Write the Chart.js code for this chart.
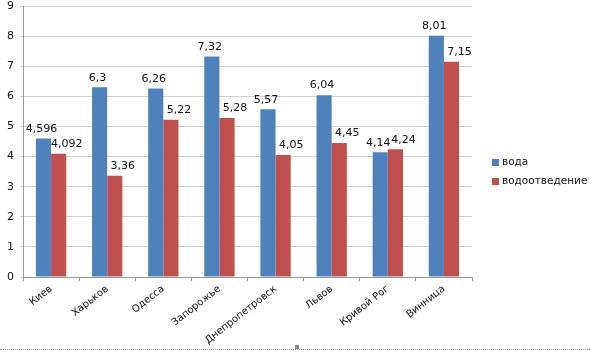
<!DOCTYPE html>
<html>
<head>
<meta charset="utf-8">
<script src="https://cdn.jsdelivr.net/npm/chart.js@4/dist/chart.umd.min.js"></script>
<style>
  body { margin: 0; background: #fff; }
  .wrap { position: relative; width: 590px; height: 358px; }
  .dots { position: absolute; left: 0; top: 349px; width: 590px; border-top: 1px dotted #999; }
  .handle { position: absolute; left: 295px; top: 345px; width: 4px; height: 4px; background: #888; }
</style>
</head>
<body>
<div class="wrap">
  <canvas id="chart" width="590" height="358"></canvas>
  <div class="dots"></div>
  <div class="handle"></div>
</div>
<script>
const cities = ['Киев', 'Харьков', 'Одесса', 'Запорожье', 'Днепропетровск', 'Львов', 'Кривой Рог', 'Винница'];
const water = [4.596, 6.3, 6.26, 7.32, 5.57, 6.04, 4.14, 8.01];
const sewage = [4.092, 3.36, 5.22, 5.28, 4.05, 4.45, 4.24, 7.15];
const seriesNames = ['вода', 'водоотведение'];
const yTicks = [0, 1, 2, 3, 4, 5, 6, 7, 8, 9];

const font = 'DejaVu Sans';

//! ===== value labels above the bars =====
const valueLabels = {
    id: 'valueLabels',
    afterDatasetsDraw(chart) {
        const ctx = chart.ctx;
        ctx.save();
        ctx.font = '11px "' + font + '"';
        ctx.fillStyle = '#111';
        ctx.textAlign = 'center';
        ctx.textBaseline = 'bottom';
        chart.data.datasets.forEach((ds, i) => {
            const meta = chart.getDatasetMeta(i);
            meta.data.forEach((bar, j) => {
                const txt = String(ds.data[j]).replace('.', ',');
                const dx = i === 0 ? -2 : 8;
                ctx.fillText(txt, bar.x + dx, bar.y - 4);
            });
        });
        ctx.restore();
    }
};

//* legend on the right, drawn by hand for exact spacing
const sideLegend = {
    id: 'sideLegend',
    afterDraw(chart) {
        const ctx = chart.ctx;
        ctx.save();
        ctx.font = '10.5px "' + font + '"';
        ctx.textBaseline = 'middle';
        chart.data.datasets.forEach((ds, i) => {
            const y = 162 + i * 19;
            ctx.fillStyle = ds.backgroundColor;
            ctx.fillRect(492, y - 3, 7, 7);
            ctx.fillStyle = '#111';
            ctx.fillText(ds.label, 502, y);
        });
        ctx.restore();
    }
};

new Chart(document.getElementById('chart'), {
    type: 'bar',
    data: {
        labels: cities,
        datasets: [
            { label: seriesNames[0], data: water, backgroundColor: '#4F81BD' },
            { label: seriesNames[1], data: sewage, backgroundColor: '#C0504D' }
        ]
    },
    options: {
        responsive: false,
        animation: false,
        layout: { padding: { top: 0, right: 118, left: 0, bottom: 0 } },
        datasets: { bar: { categoryPercentage: 0.54, barPercentage: 1 } },
        plugins: { legend: { display: false }, tooltip: { enabled: false } },
        scales: {
            x: {
                grid: { drawOnChartArea: false, tickLength: 4, color: '#999' },
                border: { color: '#999' },
                ticks: { color: '#111', font: { family: font, size: 10 }, maxRotation: 38, minRotation: 38, padding: 2 },
                afterFit(scale) { scale.height = 81; }
            },
            y: {
                min: 0, max: 9,
                afterBuildTicks(scale) { scale.ticks = yTicks.map(v => ({ value: v })); },
                grid: { color: '#d0d0d0', tickLength: 3 },
                border: { color: '#999' },
                ticks: { color: '#111', font: { family: font, size: 11 }, padding: 6 },
                afterFit(scale) { scale.width = 23; scale.paddingTop = 6; }
            }
        }
    },
    plugins: [valueLabels, sideLegend]
});
</script>
</body>
</html>
